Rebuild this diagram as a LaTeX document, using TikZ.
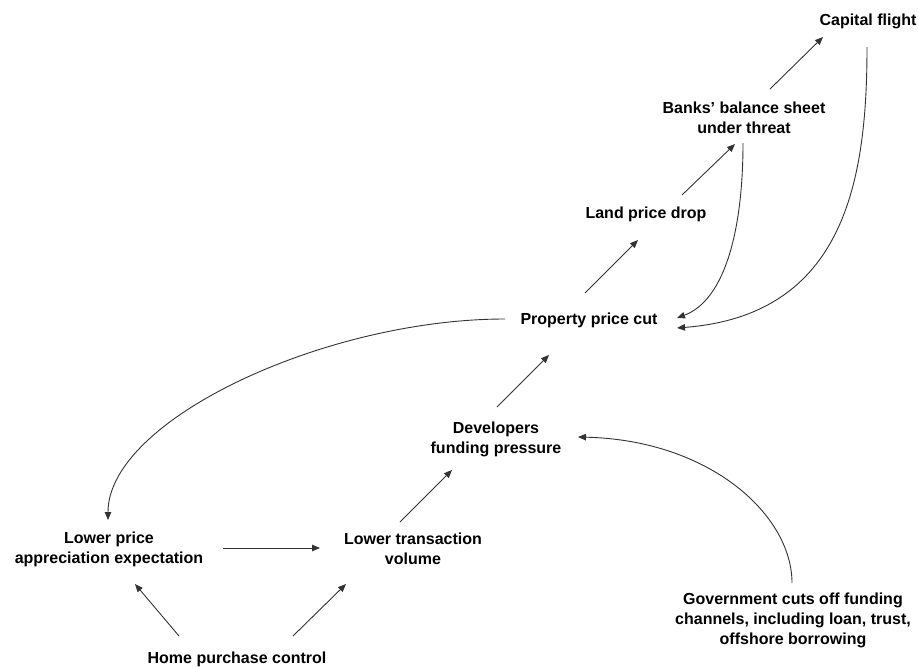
\documentclass[tikz,border=0pt]{standalone}
\usepackage{fontspec}
\setmainfont{Liberation Sans}
\usetikzlibrary{arrows.meta}
\begin{document}
\begin{tikzpicture}[x=1pt,y=-1pt,
  lbl/.style={font=\fontsize{16}{20}\selectfont\bfseries, align=center, inner sep=0pt, text=black},
  arr/.style={draw=black!80, line width=0.9pt, -{Triangle[length=8pt,width=6.5pt]}}]
\useasboundingbox[fill=white] (0,0) rectangle (919,667);
\node[lbl] (cap)   at (868,21)  {Capital flight};
\node[lbl] (banks) at (744,118) {Banks’ balance sheet\\under threat};
\node[lbl] (land)  at (646,214) {Land price drop};
\node[lbl] (prop)  at (589,320) {Property price cut};
\node[lbl] (dev)   at (496,439) {Developers\\funding pressure};
\node[lbl] (lpe)   at (109,549) {Lower price\\appreciation expectation};
\node[lbl] (ltv)   at (413,549) {Lower transaction\\volume};
\node[lbl] (home)  at (237,659) {Home purchase control};
\node[lbl] (gov)   at (793,620) {Government cuts off funding\\channels, including loan, trust,\\offshore borrowing};
% straight arrows
\draw[arr] ([shift={(-4,-27)}]prop.center) -- ([shift={(-8,26)}]land.center);
\draw[arr] ([shift={(36,-19)}]land.center) -- ([shift={(-9,26)}]banks.center);
\draw[arr] ([shift={(26,-29)}]banks.center) -- ([shift={(-45,16)}]cap.center);
\draw[arr] ([shift={(1,-32)}]dev.center) -- ([shift={(-40,35)}]prop.center);
\draw[arr] ([shift={(-13,-27)}]ltv.center) -- ([shift={(-44,31)}]dev.center);
\draw[arr] ([shift={(114,-1)}]lpe.center) -- ([shift={(-93,-1)}]ltv.center);
\draw[arr] ([shift={(-58,-23)}]home.center) -- ([shift={(26,35)}]lpe.center);
\draw[arr] ([shift={(56,-23)}]home.center) -- ([shift={(-67,35)}]ltv.center);
% curved arrows
\draw[arr] ([shift={(-84,-1)}]prop.center) .. controls (325,319) and (108,420) .. ([shift={(-1,-29)}]lpe.center);
\draw[arr] ([shift={(-1,25)}]banks.center) .. controls (743,230) and (725,300) .. ([shift={(88,-2)}]prop.center);
\draw[arr] ([shift={(-1,26)}]cap.center) .. controls (867,180) and (845,315) .. ([shift={(88,8)}]prop.center);
\draw[arr] ([shift={(-1,-37)}]gov.center) .. controls (792,515) and (710,440) .. ([shift={(82,-2)}]dev.center);
\end{tikzpicture}
\end{document}
